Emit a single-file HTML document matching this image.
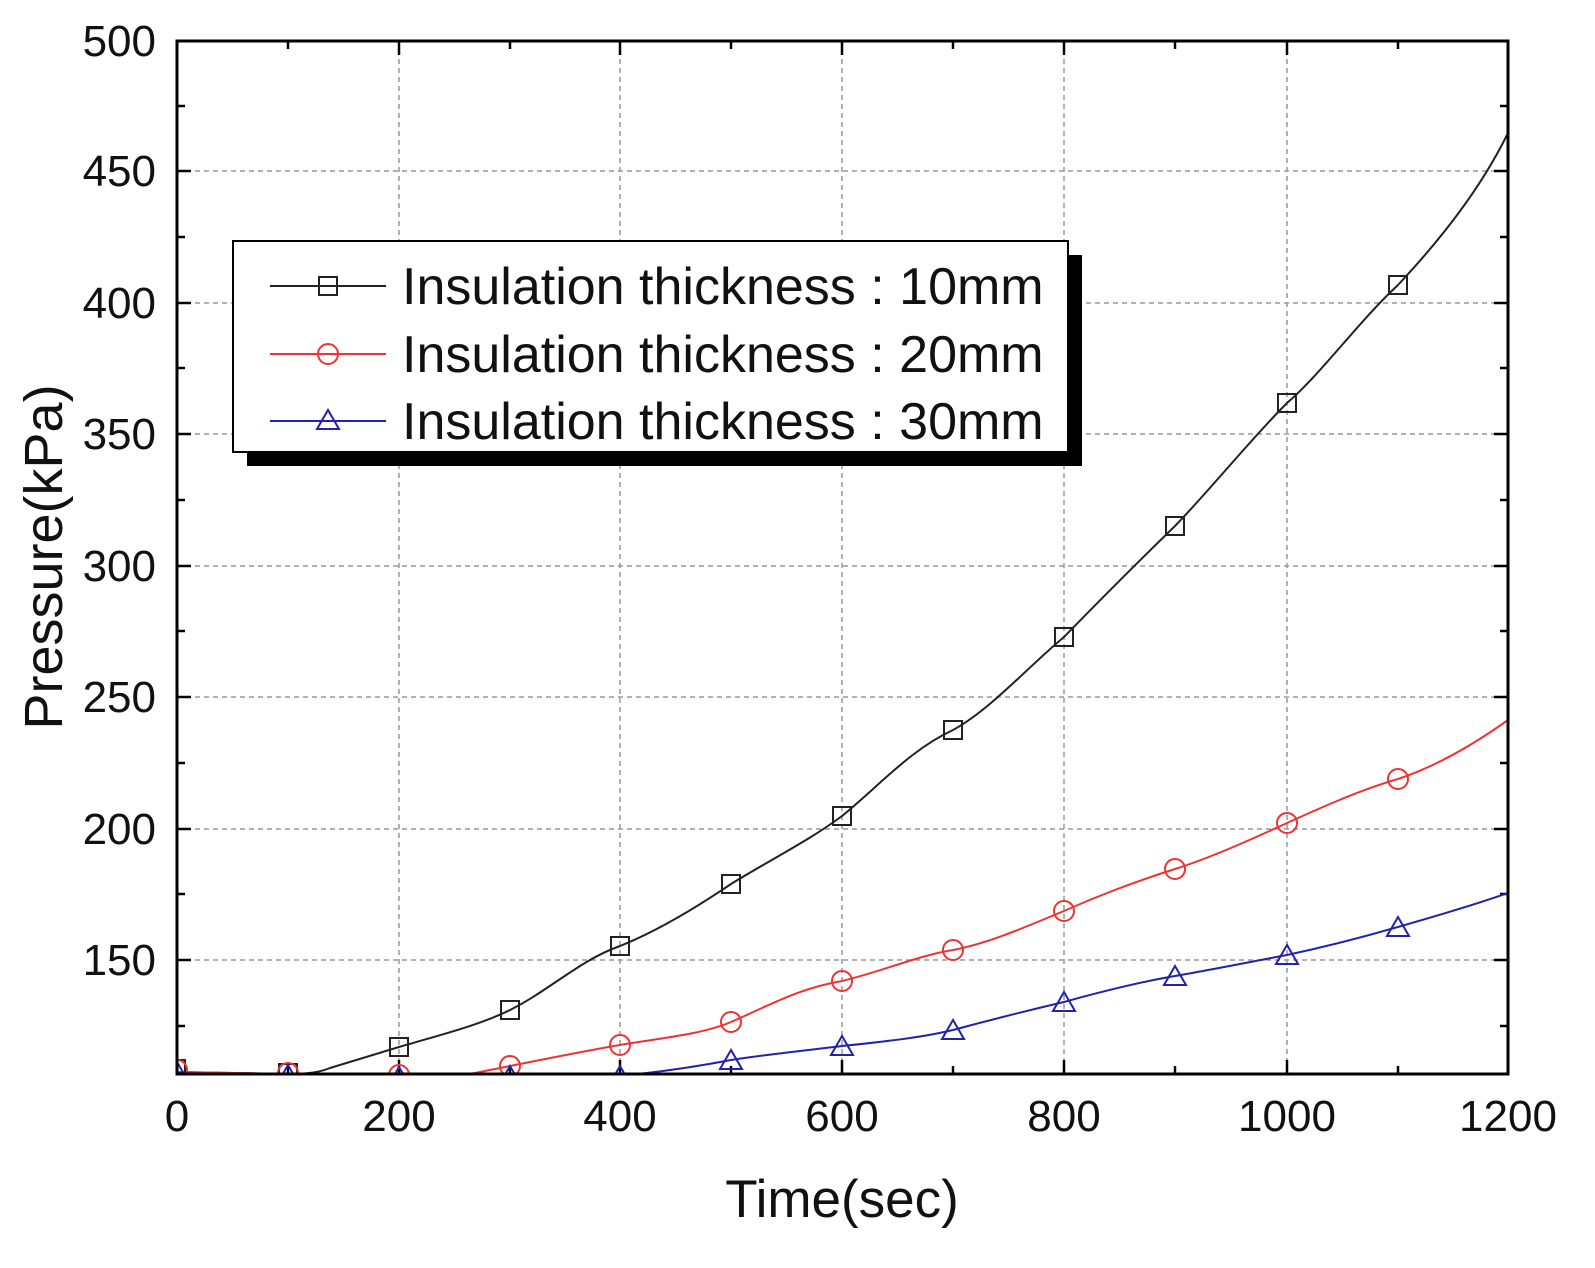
<!DOCTYPE html>
<html><head><meta charset="utf-8"><style>
html,body{margin:0;padding:0;background:#fff}
svg{display:block}
text{font-family:"Liberation Sans",Arial,sans-serif;fill:#111}
</style></head><body>
<svg width="1595" height="1268" viewBox="0 0 1595 1268" xmlns="http://www.w3.org/2000/svg">
<defs>
<clipPath id="c"><rect x="177" y="41" width="1331" height="1033"/></clipPath>
</defs>
<g stroke="#999" stroke-width="1.5" stroke-dasharray="5,4">
<line x1="399" y1="41" x2="399" y2="1074"/><line x1="620" y1="41" x2="620" y2="1074"/>
<line x1="842" y1="41" x2="842" y2="1074"/><line x1="1064" y1="41" x2="1064" y2="1074"/>
<line x1="1287" y1="41" x2="1287" y2="1074"/>
<line x1="177" y1="171" x2="1508" y2="171"/><line x1="177" y1="303" x2="1508" y2="303"/>
<line x1="177" y1="434" x2="1508" y2="434"/><line x1="177" y1="566" x2="1508" y2="566"/>
<line x1="177" y1="697" x2="1508" y2="697"/><line x1="177" y1="829" x2="1508" y2="829"/>
<line x1="177" y1="960" x2="1508" y2="960"/>
</g>
<g stroke="#000" stroke-width="2.5">
<g id="xt">
<line x1="177" y1="1074" x2="177" y2="1060"/><line x1="288" y1="1074" x2="288" y2="1066"/>
<line x1="399" y1="1074" x2="399" y2="1060"/><line x1="510" y1="1074" x2="510" y2="1066"/>
<line x1="620" y1="1074" x2="620" y2="1060"/><line x1="731" y1="1074" x2="731" y2="1066"/>
<line x1="842" y1="1074" x2="842" y2="1060"/><line x1="953" y1="1074" x2="953" y2="1066"/>
<line x1="1064" y1="1074" x2="1064" y2="1060"/><line x1="1175" y1="1074" x2="1175" y2="1066"/>
<line x1="1287" y1="1074" x2="1287" y2="1060"/><line x1="1398" y1="1074" x2="1398" y2="1066"/>
</g>
<g transform="translate(0,1115) scale(1,-1)"><use href="#xt"/></g>
<g id="yt">
<line x1="177" y1="41" x2="191" y2="41"/><line x1="177" y1="106" x2="185" y2="106"/>
<line x1="177" y1="171" x2="191" y2="171"/><line x1="177" y1="237" x2="185" y2="237"/>
<line x1="177" y1="303" x2="191" y2="303"/><line x1="177" y1="368" x2="185" y2="368"/>
<line x1="177" y1="434" x2="191" y2="434"/><line x1="177" y1="500" x2="185" y2="500"/>
<line x1="177" y1="566" x2="191" y2="566"/><line x1="177" y1="631" x2="185" y2="631"/>
<line x1="177" y1="697" x2="191" y2="697"/><line x1="177" y1="763" x2="185" y2="763"/>
<line x1="177" y1="829" x2="191" y2="829"/><line x1="177" y1="894" x2="185" y2="894"/>
<line x1="177" y1="960" x2="191" y2="960"/><line x1="177" y1="1026" x2="185" y2="1026"/>
</g>
<g transform="translate(1685,0) scale(-1,1)"><use href="#yt"/></g>
</g>
<g clip-path="url(#c)" fill="none" stroke-width="2">
<path stroke="#222" d="M177,1072 L288,1074 C310,1074 320,1072 330,1068 L399,1047 C440,1035 480,1025 510,1010 C550,990 580,960 620,946 C660,930 700,905 731,884 C770,860 810,840 842,816 C880,785 910,750 953,730 C990,710 1030,665 1064,637 C1100,600 1140,560 1175,526 C1210,490 1250,440 1287,403 C1320,375 1360,320 1398,285 C1440,240 1480,190 1508,133"/>
<path stroke="#e33" d="M177,1072 L288,1074 L399,1076 L470,1074 L510,1066 C550,1058 590,1050 620,1045 C660,1038 700,1035 731,1022 C770,1005 800,988 842,981 C880,972 920,955 953,950 C990,943 1030,925 1064,911 C1100,895 1140,880 1175,869 C1210,858 1250,840 1287,823 C1320,808 1360,790 1398,779 C1440,765 1480,740 1508,720"/>
<path stroke="#22a" d="M177,1073 L288,1075 L399,1076 L620,1076 C660,1072 700,1066 731,1060 C770,1054 810,1050 842,1046 C880,1042 920,1038 953,1030 C990,1020 1030,1010 1064,1002 C1100,992 1140,982 1175,976 C1210,970 1250,962 1287,955 C1320,948 1360,938 1398,927 C1440,915 1480,903 1508,893"/>
<g stroke="#222"><rect x="167" y="1060" width="18" height="18"/><rect x="279" y="1064" width="18" height="18"/><rect x="390" y="1038" width="18" height="18"/><rect x="501" y="1001" width="18" height="18"/><rect x="611" y="937" width="18" height="18"/><rect x="722" y="875" width="18" height="18"/><rect x="833" y="807" width="18" height="18"/><rect x="944" y="721" width="18" height="18"/><rect x="1055" y="628" width="18" height="18"/><rect x="1166" y="517" width="18" height="18"/><rect x="1278" y="394" width="18" height="18"/><rect x="1389" y="276" width="18" height="18"/></g>
<g stroke="#e33"><circle cx="177" cy="1070" r="10"/><circle cx="288" cy="1073" r="10"/><circle cx="399" cy="1075" r="10"/><circle cx="510" cy="1066" r="10"/><circle cx="620" cy="1045" r="10"/><circle cx="731" cy="1022" r="10"/><circle cx="842" cy="981" r="10"/><circle cx="953" cy="950" r="10"/><circle cx="1064" cy="911" r="10"/><circle cx="1175" cy="869" r="10"/><circle cx="1287" cy="823" r="10"/><circle cx="1398" cy="779" r="10"/></g>
<g stroke="#22a"><path d="M177,1062 l-11,19 h22z"/><path d="M288,1065 l-11,19 h22z"/><path d="M399,1067 l-11,19 h22z"/><path d="M510,1066 l-11,19 h22z"/><path d="M620,1066 l-11,19 h22z"/><path d="M731,1050 l-11,19 h22z"/><path d="M842,1036 l-11,19 h22z"/><path d="M953,1020 l-11,19 h22z"/><path d="M1064,992 l-11,19 h22z"/><path d="M1175,966 l-11,19 h22z"/><path d="M1287,945 l-11,19 h22z"/><path d="M1398,917 l-11,19 h22z"/></g>
</g>
<rect x="177" y="41" width="1331" height="1033" fill="none" stroke="#000" stroke-width="3"/>
<g font-size="44" text-anchor="end">
<text x="156" y="56">500</text><text x="156" y="186">450</text><text x="156" y="318">400</text><text x="156" y="449">350</text><text x="156" y="581">300</text><text x="156" y="712">250</text><text x="156" y="844">200</text><text x="156" y="975">150</text>
</g>
<g font-size="44" text-anchor="middle">
<text x="177" y="1131">0</text><text x="399" y="1131">200</text><text x="620" y="1131">400</text><text x="842" y="1131">600</text><text x="1064" y="1131">800</text><text x="1287" y="1131">1000</text><text x="1508" y="1131">1200</text>
</g>
<text x="842" y="1217" font-size="53" text-anchor="middle">Time(sec)</text>
<text transform="translate(62,557) rotate(-90)" font-size="54" text-anchor="middle">Pressure(kPa)</text>
<rect x="247" y="255" width="835" height="211" fill="#000"/>
<rect x="233" y="241" width="835" height="211" fill="#fff" stroke="#000" stroke-width="2"/>
<g stroke-width="2" fill="none">
<line x1="270" y1="286" x2="386" y2="286" stroke="#222"/><rect x="319" y="277" width="18" height="18" stroke="#222"/>
<line x1="270" y1="354" x2="386" y2="354" stroke="#e33"/><circle cx="328" cy="354" r="10" stroke="#e33"/>
<line x1="270" y1="421" x2="386" y2="421" stroke="#22a"/><path d="M328,410 l-11,19 h22z" stroke="#22a"/>
</g>
<g font-size="52">
<text x="402" y="304">Insulation thickness : 10mm</text>
<text x="402" y="372">Insulation thickness : 20mm</text>
<text x="402" y="439">Insulation thickness : 30mm</text>
</g>
</svg>
</body></html>
